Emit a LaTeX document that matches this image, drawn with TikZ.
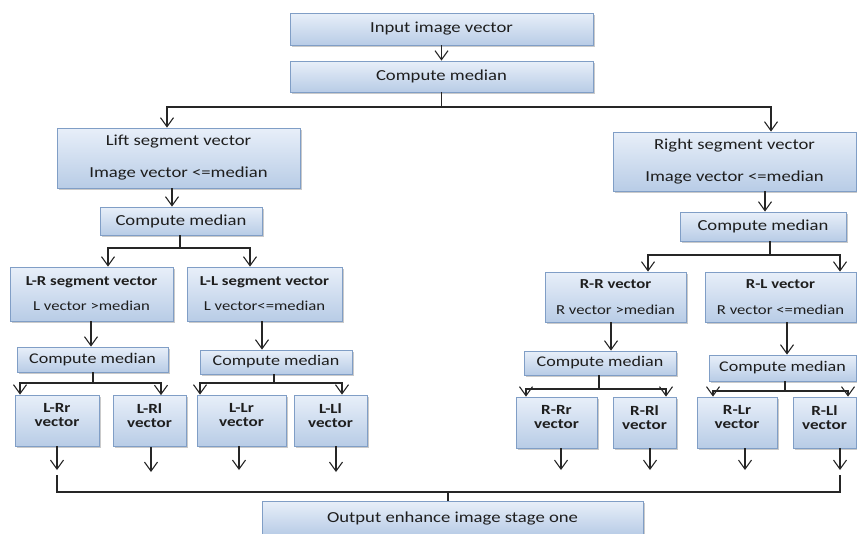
\documentclass[tikz,border=0pt]{standalone}
\usepackage{fontspec}
\setmainfont{Carlito}[FakeStretch=1.22]
\usetikzlibrary{arrows.meta,shadows}
\definecolor{boxtop}{RGB}{232,239,249}
\definecolor{boxbot}{RGB}{184,204,230}
\definecolor{boxline}{RGB}{128,158,198}
\definecolor{txt}{RGB}{30,30,30}
\tikzset{
 box/.style={draw=boxline, line width=0.8pt, top color=boxtop, bottom color=boxbot, inner sep=0pt, align=center, text=txt,
   drop shadow={shadow xshift=1.5pt, shadow yshift=-1.5pt, opacity=0.35, fill=black!60}},
 big/.style={font=\fontsize{15.3}{18}\selectfont},
 mid/.style={font=\fontsize{14.8}{17}\selectfont},
 sml/.style={font=\fontsize{13.7}{16}\selectfont},
 bsm/.style={font=\fontsize{14}{14}\selectfont\bfseries, text=txt, align=center},
 arr/.style={draw=black!85, line width=1.1pt, -{Straight Barb[length=9pt,width=13pt,line width=1.1pt]}},
 ln/.style={draw=black!85, line width=1.1pt},
}
\begin{document}
\begin{tikzpicture}[x=1pt,y=-1pt]
\useasboundingbox (0,0) rectangle (857,533);
% top
\node[box,big,minimum width=303,minimum height=32] (in) at (441.5,29) {Input image vector};
\node[box,big,minimum width=303,minimum height=31] (cm0) at (441.5,76.5) {Compute median};
% segments
\node[box,big,minimum width=243,minimum height=60] (lseg) at (178.5,158) {Lift segment vector\\[14pt]Image vector <=median};
\node[box,big,minimum width=243,minimum height=59] (rseg) at (734.5,161.5) {Right segment vector\\[14pt]Image vector <=median};
\node[box,big,minimum width=162,minimum height=28] (lcm) at (181,221) {Compute median};
\node[box,big,minimum width=166,minimum height=29] (rcm) at (763,226.5) {Compute median};
% second level
\node[box,sml,minimum width=163,minimum height=54] (lr) at (91.5,294) {\textbf{L-R segment vector}\\[9pt]L vector >median};
\node[box,sml,minimum width=155,minimum height=54] (ll) at (264.5,294) {\textbf{L-L segment vector}\\[9pt]L vector<=median};
\node[box,sml,minimum width=141,minimum height=50] (rr) at (615.5,297) {\textbf{R-R vector}\\[10pt]R vector >median};
\node[box,sml,minimum width=151,minimum height=50] (rl) at (780.5,297) {\textbf{R-L vector}\\[10pt]R vector <=median};
\node[box,mid,minimum width=151,minimum height=25] (lrcm) at (92.5,359.5) {Compute median};
\node[box,mid,minimum width=152,minimum height=24] (llcm) at (276,362) {Compute median};
\node[box,mid,minimum width=152,minimum height=24] (rrcm) at (600,363) {Compute median};
\node[box,mid,minimum width=147,minimum height=26] (rlcm) at (782.5,368) {Compute median};
% leaves
\node[box,minimum width=84,minimum height=51] (lrr) at (57,420.5) {};
\node[box,minimum width=73,minimum height=51] (lrl) at (149.5,421) {};
\node[box,minimum width=89,minimum height=51] (llr) at (241.5,420.5) {};
\node[box,minimum width=73,minimum height=51] (lll) at (330.5,420.5) {};
\node[box,minimum width=81,minimum height=51] (rrr) at (556.5,422.5) {};
\node[box,minimum width=63,minimum height=51] (rrl) at (644.5,422.5) {};
\node[box,minimum width=80,minimum height=51] (rlr) at (737,422.5) {};
\node[box,minimum width=63,minimum height=51] (rll) at (824.5,422.5) {};
\node[bsm] (lrr-t) at ([yshift=5pt]lrr.center) {L-Rr\\vector};
\node[bsm] (lrl-t) at ([yshift=5pt]lrl.center) {L-Rl\\vector};
\node[bsm] (llr-t) at ([yshift=5pt]llr.center) {L-Lr\\vector};
\node[bsm] (lll-t) at ([yshift=5pt]lll.center) {L-Ll\\vector};
\node[bsm] (rrr-t) at ([yshift=5pt]rrr.center) {R-Rr\\vector};
\node[bsm] (rrl-t) at ([yshift=5pt]rrl.center) {R-Rl\\vector};
\node[bsm] (rlr-t) at ([yshift=5pt]rlr.center) {R-Lr\\vector};
\node[bsm] (rll-t) at ([yshift=5pt]rll.center) {R-Ll\\vector};
% output
\node[box,big,minimum width=381,minimum height=34] (out) at (452.5,518) {Output enhance image stage one};

% connectors
\draw[arr] (in.south) -- (cm0.north);
\coordinate (j0) at (441.5,107);
\draw[ln] (cm0.south) -- (j0);
\draw[arr] (j0) -| (lseg.north -| 167,0);
\draw[arr] (j0) -| (rseg.north -| 771,0);

\draw[arr] (lseg.south -| 172,0) -- (lcm.north -| 172,0);
\coordinate (j1) at (180,248);
\draw[ln] (lcm.south -| j1) -- (j1);
\draw[arr] (j1) -| (lr.north -| 108,0);
\draw[arr] (j1) -| (ll.north -| 250,0);

\draw[arr] (rseg.south -| 765,0) -- (rcm.north -| 765,0);
\coordinate (j2) at (770,255);
\draw[ln] (rcm.south -| j2) -- (j2);
\draw[arr] (j2) -| (rr.north -| 648,0);
\draw[arr] (j2) -| (rl.north -| 840,0);

\draw[arr] (lr.south -| 91,0) -- (lrcm.north -| 91,0);
\draw[arr] (ll.south -| 262,0) -- (llcm.north -| 262,0);
\draw[arr] (rr.south -| 611,0) -- (rrcm.north -| 611,0);
\draw[arr] (rl.south -| 787,0) -- (rlcm.north -| 787,0);

\coordinate (j3) at (93,383);
\draw[ln] (lrcm.south -| j3) -- (j3);
\draw[arr] (j3) -| (lrr.north -| 20,0);
\draw[arr] (j3) -| (lrl.north -| 161,0);
\coordinate (j4) at (274,383);
\draw[ln] (llcm.south -| j4) -- (j4);
\draw[arr] (j4) -| (llr.north -| 200,0);
\draw[arr] (j4) -| (lll.north -| 342,0);
\coordinate (j5) at (599,389);
\draw[ln] (rrcm.south -| j5) -- (j5);
\draw[arr] (j5) -| (rrr.north -| 526,0);
\draw[arr] (j5) -| (rrl.north -| 666,0);
\coordinate (j6) at (785,391);
\draw[ln] (rlcm.south -| j6) -- (j6);
\draw[arr] (j6) -| (rlr.north -| 713,0);
\draw[arr] (j6) -| (rll.north -| 848,0);

\coordinate (e1) at (57,470);
\coordinate (e2) at (151,472);
\coordinate (e3) at (239,470);
\coordinate (e4) at (336,472);
\coordinate (e5) at (561,470);
\coordinate (e6) at (650,470);
\coordinate (e7) at (745,470);
\coordinate (e8) at (840,470);
\draw[arr] (lrr.south -| e1) -- (e1);
\draw[arr] (lrl.south -| e2) -- (e2);
\draw[arr] (llr.south -| e3) -- (e3);
\draw[arr] (lll.south -| e4) -- (e4);
\draw[arr] (rrr.south -| e5) -- (e5);
\draw[arr] (rrl.south -| e6) -- (e6);
\draw[arr] (rlr.south -| e7) -- (e7);
\draw[arr] (rll.south -| e8) -- (e8);

\coordinate (o1) at (57,475);
\coordinate (o1b) at (57,492);
\coordinate (o2b) at (840,492);
\coordinate (o2) at (840,475);
\coordinate (j7) at (448,492);
\draw[ln] (o1) -- (o1b) -- (o2b) -- (o2);
\draw[ln] (j7) -- (out.north -| j7);
\end{tikzpicture}
\end{document}
